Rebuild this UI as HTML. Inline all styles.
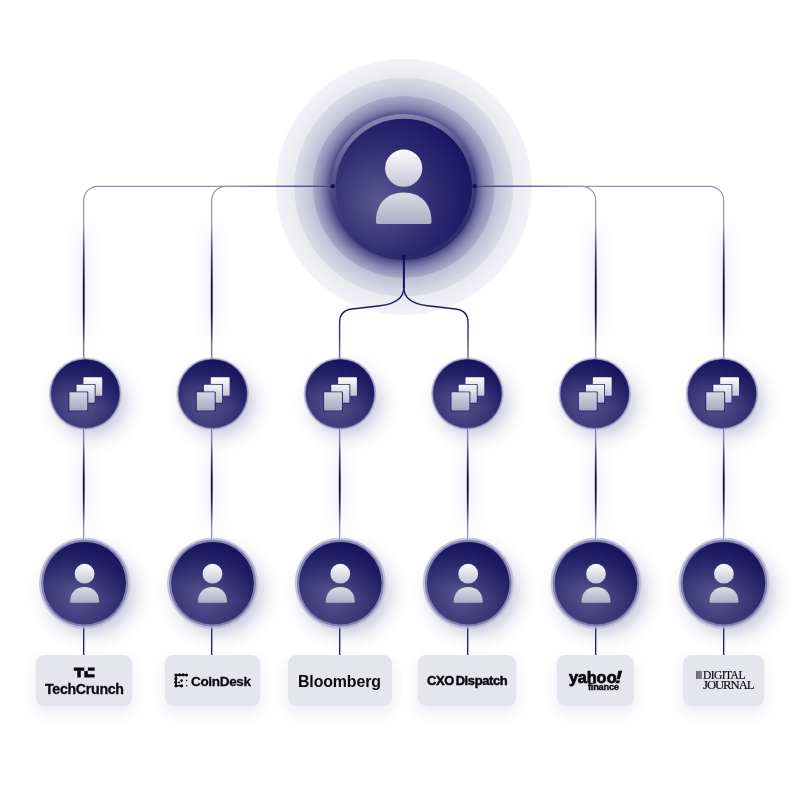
<!DOCTYPE html>
<html><head><meta charset="utf-8">
<style>
html,body{margin:0;padding:0;background:#fff;}
body{width:800px;height:800px;overflow:hidden;position:relative;font-family:"Liberation Sans",sans-serif;}
svg{position:absolute;left:0;top:0;}
.lbl{position:absolute;top:655px;height:50.5px;background:#e5e5ee;border-radius:8.5px;box-shadow:0 6px 14px rgba(70,60,150,0.12);}
.t{position:absolute;color:#0b0b0f;font-weight:bold;white-space:nowrap;line-height:1;will-change:transform;-webkit-text-stroke:0.3px #0b0b0f;}
</style></head><body>
<svg width="800" height="800" viewBox="0 0 800 800">
<defs>
<radialGradient id="gMain" cx="0.32" cy="0.6" r="0.75">
<stop offset="0" stop-color="#5a578f"/><stop offset="0.55" stop-color="#2f2b70"/><stop offset="1" stop-color="#171261"/>
</radialGradient>
<radialGradient id="gSm" cx="0.42" cy="0.64" r="0.62">
<stop offset="0" stop-color="#57548e"/><stop offset="0.6" stop-color="#3d3979"/><stop offset="1" stop-color="#262269"/>
</radialGradient>
<linearGradient id="gTop" x1="0.35" y1="1" x2="0.6" y2="0">
<stop offset="0.4" stop-color="#15115b" stop-opacity="0"/><stop offset="1" stop-color="#15115b" stop-opacity="0.85"/>
</linearGradient>
<radialGradient id="gR3" cx="0.5" cy="0.5" r="0.5">
<stop offset="0.79" stop-color="#4f4c89"/><stop offset="0.85" stop-color="#7977a7"/><stop offset="0.91" stop-color="#9290b8"/><stop offset="1" stop-color="#abaac8"/>
</radialGradient>
<linearGradient id="gBand" x1="0.4" y1="0" x2="0.62" y2="1">
<stop offset="0" stop-color="#8a88b3"/><stop offset="0.3" stop-color="#5a578f"/><stop offset="0.5" stop-color="#45417f"/><stop offset="1" stop-color="#2a266c"/>
</linearGradient>
<radialGradient id="gR2" cx="0.5" cy="0.5" r="0.5">
<stop offset="0.84" stop-color="#c2c2d6"/><stop offset="1" stop-color="#dcdce8"/>
</radialGradient>
<radialGradient id="gR1" cx="0.5" cy="0.5" r="0.5">
<stop offset="0.85" stop-color="#e9e9f1"/><stop offset="1" stop-color="#f2f2f7"/>
</radialGradient>
<linearGradient id="gIcon" x1="0" y1="0" x2="0" y2="1">
<stop offset="0" stop-color="#f6f6fa"/><stop offset="1" stop-color="#b4b3cb"/>
</linearGradient>
<linearGradient id="gHead" x1="0" y1="0" x2="0" y2="1"><stop offset="0" stop-color="#fbfbfd"/><stop offset="1" stop-color="#c6c5d7"/></linearGradient>
<linearGradient id="gBody" x1="0" y1="0" x2="0" y2="1"><stop offset="0" stop-color="#dcdce6"/><stop offset="1" stop-color="#aeadc6"/></linearGradient>
<linearGradient id="gI1" x1="0" y1="0" x2="0" y2="1"><stop offset="0" stop-color="#ffffff"/><stop offset="1" stop-color="#c3c2d5"/></linearGradient>
<linearGradient id="gI2" x1="0" y1="0" x2="0" y2="1"><stop offset="0" stop-color="#f4f4f8"/><stop offset="1" stop-color="#b9b8ce"/></linearGradient>
<linearGradient id="gI3" x1="0" y1="0" x2="0" y2="1"><stop offset="0" stop-color="#d6d6e2"/><stop offset="1" stop-color="#a9a8c3"/></linearGradient>
<linearGradient id="gV" x1="0" y1="186" x2="0" y2="360" gradientUnits="userSpaceOnUse">
<stop offset="0" stop-color="#9492bd"/><stop offset="0.25" stop-color="#8d8bb8"/><stop offset="0.55" stop-color="#2a266c"/><stop offset="0.75" stop-color="#2a266c"/><stop offset="1" stop-color="#7775a8"/>
</linearGradient>
<linearGradient id="gV2" x1="0" y1="428" x2="0" y2="540" gradientUnits="userSpaceOnUse">
<stop offset="0" stop-color="#7d7bab"/><stop offset="0.2" stop-color="#5a578f"/><stop offset="0.45" stop-color="#120e58"/><stop offset="0.6" stop-color="#120e58"/><stop offset="0.85" stop-color="#6a68a0"/><stop offset="1" stop-color="#8d8bb8"/>
</linearGradient>
<linearGradient id="gV2b" x1="0" y1="440" x2="0" y2="525" gradientUnits="userSpaceOnUse">
<stop offset="0" stop-color="#120e58" stop-opacity="0"/><stop offset="0.45" stop-color="#120e58" stop-opacity="1"/><stop offset="0.6" stop-color="#120e58" stop-opacity="1"/><stop offset="1" stop-color="#120e58" stop-opacity="0"/>
</linearGradient>
<linearGradient id="gV1b" x1="0" y1="225" x2="0" y2="345" gradientUnits="userSpaceOnUse">
<stop offset="0" stop-color="#120e58" stop-opacity="0"/><stop offset="0.5" stop-color="#120e58" stop-opacity="1"/><stop offset="0.7" stop-color="#120e58" stop-opacity="1"/><stop offset="1" stop-color="#120e58" stop-opacity="0"/>
</linearGradient>
<linearGradient id="gJ" x1="0" y1="257" x2="0" y2="360" gradientUnits="userSpaceOnUse">
<stop offset="0" stop-color="#17125f"/><stop offset="0.55" stop-color="#1d1863"/><stop offset="0.8" stop-color="#3d3a7c"/><stop offset="1" stop-color="#7472a6"/></linearGradient>
<linearGradient id="gHL" x1="230" y1="0" x2="333" y2="0" gradientUnits="userSpaceOnUse">
<stop offset="0" stop-color="#2a266c" stop-opacity="0"/><stop offset="1" stop-color="#2a266c" stop-opacity="0.9"/></linearGradient>
<linearGradient id="gHR" x1="577" y1="0" x2="474" y2="0" gradientUnits="userSpaceOnUse">
<stop offset="0" stop-color="#2a266c" stop-opacity="0"/><stop offset="1" stop-color="#2a266c" stop-opacity="0.9"/></linearGradient>
<filter id="blur6" x="-50%" y="-50%" width="200%" height="200%"><feGaussianBlur stdDeviation="6"/></filter>
<filter id="blur10" x="-50%" y="-50%" width="200%" height="200%"><feGaussianBlur stdDeviation="10"/></filter>
<filter id="blurL" x="-2000%" y="-20%" width="4100%" height="140%"><feGaussianBlur stdDeviation="8 14"/></filter>
<clipPath id="cR3"><circle cx="403.8" cy="187" r="91"/></clipPath>
<g id="stack">
<rect x="-1.9" y="-16.5" width="18.8" height="18.6" rx="0.8" fill="url(#gI1)"/>
<rect x="-9.7" y="-9.8" width="20" height="20" rx="1" fill="#2d296c"/>
<rect x="-8.8" y="-9" width="18.2" height="18.1" rx="0.8" fill="url(#gI2)"/>
<rect x="-17" y="-2.2" width="20" height="20" rx="1" fill="#2d296c"/>
<rect x="-15.9" y="-1.5" width="17.9" height="18.2" rx="0.8" fill="url(#gI3)"/>
</g>
<g id="person">
<circle cx="0" cy="-9.5" r="9.9" fill="url(#gHead)"/>
<path d="M-14.5 18.5 C-14.5 9.6 -8.7 3.9 0 3.9 C8.7 3.9 14.5 9.6 14.5 18.5 Q14.5 19.6 13.4 19.6 H-13.4 Q-14.5 19.6 -14.5 18.5 Z" fill="url(#gBody)"/>
</g>
<g id="personL">
<circle cx="403.7" cy="168.2" r="18.6" fill="url(#gHead)"/>
<path d="M375.9 221.9 C375.9 203.5 387 192.6 403.7 192.6 C420.4 192.6 431.5 203.5 431.5 221.9 Q431.5 223.9 429.5 223.9 H377.9 Q375.9 223.9 375.9 221.9 Z" fill="url(#gBody)"/>
</g>
<g id="sm">
<ellipse cx="6" cy="9" rx="34" ry="32" fill="#2f2a80" opacity="0.3" filter="url(#blur10)"/>
<circle r="36.3" fill="#a9a8ca" opacity="0.7"/>
<circle r="35" fill="#6a67a3" opacity="0.75"/>
<circle r="34.2" fill="url(#gSm)"/><circle r="34.2" fill="url(#gTop)"/>
<use href="#stack"/>
</g>
<g id="pc">
<ellipse cx="6" cy="9" rx="43" ry="41" fill="#2f2a80" opacity="0.3" filter="url(#blur10)"/>
<circle r="45.4" fill="#b5b4d2" opacity="0.75"/>
<circle r="43.4" fill="#7d7bae" opacity="0.9"/>
<circle r="41.3" fill="url(#gSm)"/><circle r="41.3" fill="url(#gTop)"/>
<use href="#person"/>
</g>
</defs>

<!-- rings -->
<circle cx="403.8" cy="187" r="128" fill="url(#gR1)"/>
<circle cx="403.8" cy="187" r="109.5" fill="url(#gR2)"/>
<circle cx="403.8" cy="187" r="91" fill="url(#gR3)"/>
<g clip-path="url(#cR3)"><circle cx="400" cy="193" r="74" fill="#1c1763" opacity="0.28" filter="url(#blur6)"/></g>
<circle cx="403.8" cy="187" r="73" fill="url(#gBand)"/>
<circle cx="403.8" cy="187" r="68.2" fill="url(#gMain)"/>

<!-- line glows -->
<g fill="#5546c8" opacity="0.2" filter="url(#blurL)">
<rect x="80.7" y="235" width="6" height="95"/><rect x="208.7" y="235" width="6" height="95"/>
<rect x="592.7" y="235" width="6" height="95"/><rect x="720.7" y="235" width="6" height="95"/>
<rect x="80.7" y="450" width="6" height="70"/><rect x="208.7" y="450" width="6" height="70"/>
<rect x="336.7" y="450" width="6" height="70"/><rect x="464.7" y="450" width="6" height="70"/>
<rect x="592.7" y="450" width="6" height="70"/><rect x="720.7" y="450" width="6" height="70"/>
</g>

<!-- top lines -->
<g fill="none" stroke-width="1.2">
<path d="M333 186.3 H97.7 A14 14 0 0 0 83.7 200.3 V360" stroke="url(#gV)"/>
<path d="M333 186.3 H225.7 A14 14 0 0 0 211.7 200.3 V360" stroke="url(#gV)"/>
<path d="M474.5 186.3 H581.7 A14 14 0 0 1 595.7 200.3 V360" stroke="url(#gV)"/>
<path d="M474.5 186.3 H709.7 A14 14 0 0 1 723.7 200.3 V360" stroke="url(#gV)"/>
</g>
<rect x="230" y="185.7" width="103" height="1.2" fill="url(#gHL)"/>
<rect x="474" y="185.7" width="103" height="1.2" fill="url(#gHR)"/>
<g fill="none" stroke="url(#gJ)" stroke-width="1.4">
<path d="M403.8 257 V287.5 C403.8 299 395 304 380 305.8 L352 309 C344 310 339.6 314.5 339.6 322.5 V360"/>
<path d="M403.8 257 V287.5 C403.8 299 412.6 304 427.6 305.8 L455.6 309 C463.6 310 468 314.5 468 322.5 V360"/>
</g>
<path d="M403.8 257 V288" stroke="#17125f" stroke-width="1.9" fill="none"/>
<circle cx="332.8" cy="186.3" r="2.2" fill="#141055"/>
<circle cx="474.6" cy="186.3" r="2.2" fill="#141055"/>
<circle cx="403.8" cy="256.8" r="2.2" fill="#141055"/>

<!-- mid lines -->
<g stroke="url(#gV2)" stroke-width="1.1">
<path d="M83.7 425V545"/><path d="M211.7 425V545"/><path d="M339.7 425V545"/><path d="M467.7 425V545"/><path d="M595.7 425V545"/><path d="M723.7 425V545"/>
</g>
<g fill="url(#gV2b)">
<rect x="82.8" y="440" width="1.8" height="85"/><rect x="210.8" y="440" width="1.8" height="85"/><rect x="338.8" y="440" width="1.8" height="85"/>
<rect x="466.8" y="440" width="1.8" height="85"/><rect x="594.8" y="440" width="1.8" height="85"/><rect x="722.8" y="440" width="1.8" height="85"/>
</g>
<g fill="url(#gV1b)">
<rect x="82.8" y="225" width="1.8" height="120"/><rect x="210.8" y="225" width="1.8" height="120"/>
<rect x="594.8" y="225" width="1.8" height="120"/><rect x="722.8" y="225" width="1.8" height="120"/>
</g>
<g stroke="#1b1664" stroke-width="1.3">
<path d="M83.7 625V656"/><path d="M211.7 625V656"/><path d="M339.7 625V656"/><path d="M467.7 625V656"/><path d="M595.7 625V656"/><path d="M723.7 625V656"/>
</g>

<use href="#personL"/>

<use href="#sm" x="85.3" y="393.7"/><use href="#sm" x="212.7" y="393.7"/><use href="#sm" x="340.0" y="393.7"/><use href="#sm" x="467.4" y="393.7"/><use href="#sm" x="594.75" y="393.7"/><use href="#sm" x="722.1" y="393.7"/>
<use href="#pc" x="84.6" y="583.2"/><use href="#pc" x="212.5" y="583.2"/><use href="#pc" x="340.3" y="583.2"/><use href="#pc" x="468.2" y="583.2"/><use href="#pc" x="596.0" y="583.2"/><use href="#pc" x="723.9" y="583.2"/>
</svg>

<div class="lbl" style="left:36.2px;width:95.8px"></div>
<div class="lbl" style="left:165px;width:95.2px"></div>
<div class="lbl" style="left:288.3px;width:103.5px"></div>
<div class="lbl" style="left:418.3px;width:97.7px"></div>
<div class="lbl" style="left:557.3px;width:76.5px"></div>
<div class="lbl" style="left:683.2px;width:81px"></div>

<div class="t" id="t1" style="left:45px;top:682px;font-size:14.2px;letter-spacing:-0.3px">TechCrunch</div>
<div class="t" id="t2" style="left:191px;top:674.6px;font-size:13.5px;letter-spacing:-0.32px">CoinDesk</div>
<div class="t" id="t3" style="left:298.2px;top:674.1px;font-size:15.9px;letter-spacing:-0.12px;-webkit-text-stroke:0">Bloomberg</div>
<div class="t" id="t4" style="left:427.4px;top:674.5px;font-size:12.9px;letter-spacing:-0.36px;word-spacing:-1.4px;-webkit-text-stroke:0.5px #0b0b0f">CXO Dispatch</div>
<div class="t" id="t5" style="left:569.2px;top:669.3px;font-size:16.3px;letter-spacing:-0.2px;-webkit-text-stroke:0.75px #0b0b0f">yah<span style="letter-spacing:0.25px">oo</span><i style="display:inline-block;margin-left:-0.8px;transform:scaleX(1.25);-webkit-text-stroke:0.7px #0b0b0f">!</i></div>
<div class="t" id="t6" style="left:588.2px;top:682.9px;font-size:9.2px;letter-spacing:-0.2px;-webkit-text-stroke:0.4px #0b0b0f">finance</div>
<div class="t" id="t7" style="left:702.5px;top:669.8px;font-size:11.5px;font-family:'Liberation Serif',serif;font-weight:normal;letter-spacing:-0.55px;-webkit-text-stroke:0.2px #0b0b0f">DIGITAL</div>
<div class="t" id="t8" style="left:702.8px;top:678.6px;font-size:12.7px;font-family:'Liberation Serif',serif;font-weight:normal;letter-spacing:-1.05px;-webkit-text-stroke:0.2px #0b0b0f">JOURNAL</div>
<div style="position:absolute;left:695.8px;top:671.2px;width:5.8px;height:7.6px;background:linear-gradient(90deg,#6a6a6e,#85858a)"></div>

<svg width="800" height="800" viewBox="0 0 800 800" style="pointer-events:none">
<!-- TC logo -->
<path d="M73.8 667.5 h10.5 v3.3 h-3.5 v6.7 h-3.5 v-6.7 h-3.5 z M87.8 667.5 h6.8 v3.3 h-6.8 z M84.3 671 h3.5 v3.2 h6.8 v3.3 h-10.3 z" fill="#0b0b0f"/>
<!-- CoinDesk icon -->
<g fill="none" stroke="#0b0b0f" stroke-width="1.5" stroke-linecap="round" stroke-linejoin="round">
<path d="M186.6 675 H176 V685.8 H181.6"/>
</g>
<g fill="#0b0b0f">
<circle cx="176" cy="675" r="1.6"/><circle cx="179.6" cy="674.8" r="1.6"/><circle cx="183.1" cy="674.8" r="1.6"/><circle cx="186.6" cy="675" r="1.6"/>
<circle cx="175.8" cy="678.6" r="1.6"/><circle cx="175.8" cy="682.2" r="1.6"/><circle cx="176" cy="685.8" r="1.6"/><circle cx="181.6" cy="685.8" r="1.6"/>
<circle cx="181.6" cy="680.6" r="1.3"/><circle cx="179.2" cy="682.4" r="1.0"/>
<circle cx="186.7" cy="680.6" r="0.75"/><circle cx="186.7" cy="685.8" r="0.75"/>
</g>
</svg>
</body></html>
